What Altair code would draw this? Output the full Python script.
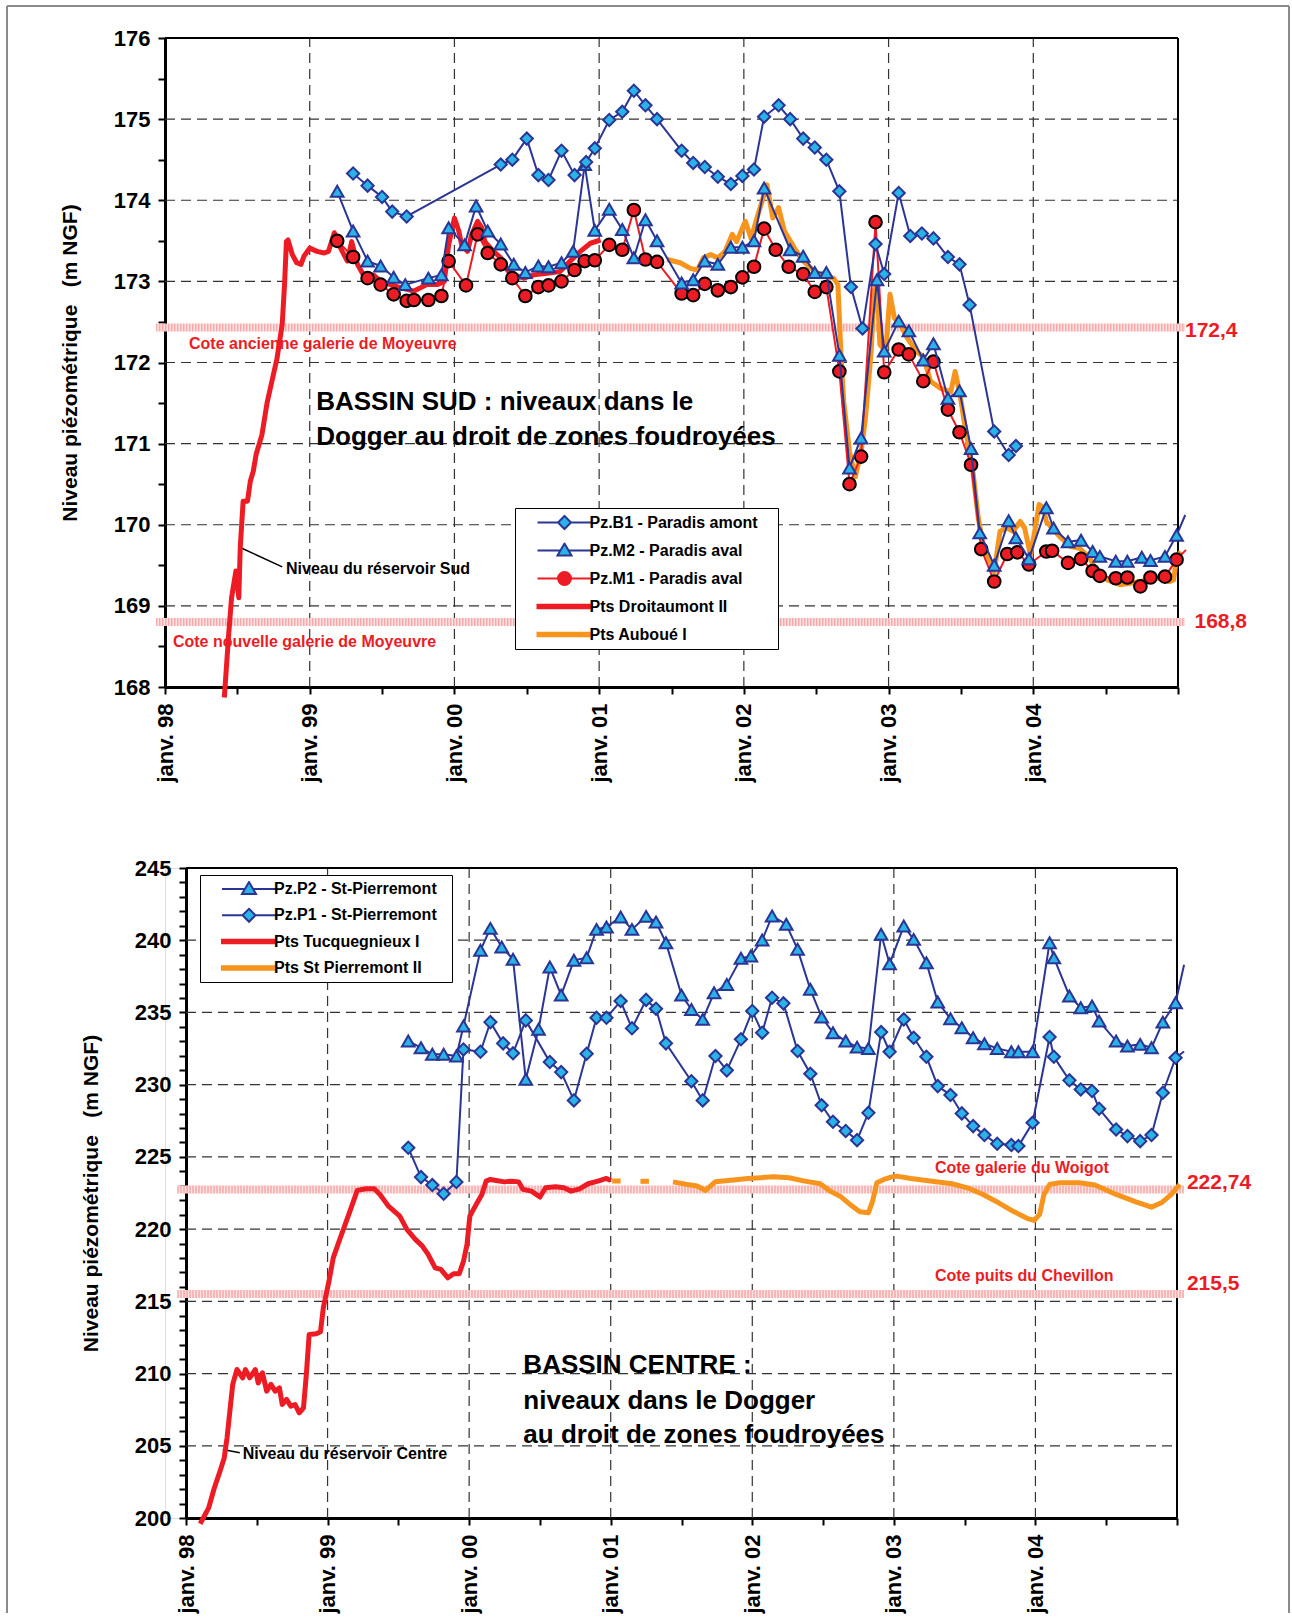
import altair as alt
import pandas as pd

FONT = "Liberation Sans"
NAVY = "#2b3595"
CYAN = "#2ab3e6"
RED = "#ed1c24"
ORANGE = "#f7941d"
GRID = "#333333"

# ================= BASSIN SUD (top) =================
sud_b1_t = [1999.30, 1999.40, 1999.50, 1999.57, 1999.67, 2000.32, 2000.40, 2000.50, 2000.58, 2000.65,
            2000.74, 2000.83, 2000.91, 2000.97, 2001.07, 2001.16, 2001.24, 2001.32, 2001.40, 2001.57,
            2001.65, 2001.73, 2001.82, 2001.91, 2001.99, 2002.07, 2002.14, 2002.24, 2002.32, 2002.41,
            2002.49, 2002.57, 2002.66, 2002.74, 2002.82, 2002.91, 2002.97, 2003.07, 2003.15, 2003.23,
            2003.31, 2003.41, 2003.49, 2003.56, 2003.73, 2003.83, 2003.88]
sud_b1_v = [174.33, 174.18, 174.04, 173.86, 173.80, 174.44, 174.50, 174.76, 174.31, 174.25,
            174.61, 174.31, 174.47, 174.64, 174.99, 175.09, 175.35, 175.17, 175.00, 174.61,
            174.46, 174.41, 174.29, 174.20, 174.30, 174.38, 175.03, 175.17, 175.00, 174.76,
            174.65, 174.50, 174.11, 172.93, 172.42, 173.46, 173.09, 174.09, 173.56, 173.59,
            173.53, 173.30, 173.21, 172.71, 171.15, 170.86, 170.97]

sud_m2_t = [1999.19, 1999.30, 1999.40, 1999.49, 1999.58, 1999.66, 1999.82, 1999.91, 1999.96, 2000.07,
            2000.15, 2000.23, 2000.32, 2000.41, 2000.49, 2000.58, 2000.65, 2000.74, 2000.82, 2000.90,
            2000.97, 2001.07, 2001.16, 2001.24, 2001.32, 2001.40, 2001.57, 2001.65, 2001.73, 2001.82,
            2001.91, 2001.99, 2002.07, 2002.14, 2002.32, 2002.41, 2002.49, 2002.57, 2002.66, 2002.73,
            2002.81, 2002.92, 2002.97, 2003.07, 2003.14, 2003.24, 2003.31, 2003.41, 2003.49, 2003.57,
            2003.63, 2003.73, 2003.83, 2003.88, 2003.97, 2004.09, 2004.14, 2004.24, 2004.33, 2004.41,
            2004.46, 2004.57, 2004.65, 2004.75, 2004.81, 2004.91, 2004.99, 2005.05]
sud_m2_v = [174.11, 173.62, 173.25, 173.19, 173.05, 172.96, 173.04, 173.08, 173.66, 173.45,
            173.93, 173.62, 173.46, 173.21, 173.11, 173.19, 173.18, 173.23, 173.37, 174.44,
            173.63, 173.89, 173.64, 173.29, 173.76, 173.50, 172.98, 173.02, 173.25, 173.21,
            173.42, 173.42, 173.50, 174.15, 173.39, 173.31, 173.11, 173.11, 172.09, 170.70,
            171.07, 173.02, 172.14, 172.51, 172.39, 172.03, 172.23, 171.56, 171.65, 170.94,
            169.90, 169.50, 170.05, 169.84, 169.58, 170.21, 169.96, 169.79, 169.81, 169.67,
            169.61, 169.55, 169.55, 169.60, 169.56, 169.61, 169.87, 170.12]

sud_m1_t = [1999.19, 1999.30, 1999.40, 1999.49, 1999.58, 1999.67, 1999.72, 1999.82, 1999.91, 1999.96,
            2000.08, 2000.16, 2000.23, 2000.32, 2000.40, 2000.49, 2000.58, 2000.65, 2000.74, 2000.83,
            2000.90, 2000.97, 2001.07, 2001.16, 2001.24, 2001.32, 2001.40, 2001.57, 2001.65, 2001.73,
            2001.82, 2001.91, 2001.99, 2002.07, 2002.14, 2002.22, 2002.31, 2002.41, 2002.49, 2002.57,
            2002.66, 2002.73, 2002.81, 2002.91, 2002.97, 2003.07, 2003.14, 2003.24, 2003.31, 2003.41,
            2003.49, 2003.57, 2003.64, 2003.73, 2003.82, 2003.89, 2003.97, 2004.09, 2004.13, 2004.24,
            2004.33, 2004.41, 2004.46, 2004.57, 2004.65, 2004.74, 2004.81, 2004.91, 2004.99, 2005.055]
sud_m1_v = [173.50, 173.30, 173.04, 172.96, 172.84, 172.76, 172.77, 172.77, 172.82, 173.25,
            172.95, 173.58, 173.35, 173.21, 173.04, 172.82, 172.93, 172.95, 173.00, 173.14,
            173.25, 173.26, 173.45, 173.39, 173.88, 173.27, 173.24, 172.85, 172.83, 172.97,
            172.89, 172.93, 173.05, 173.18, 173.65, 173.39, 173.18, 173.09, 172.87, 172.93,
            171.89, 170.50, 170.84, 173.73, 171.88, 172.16, 172.10, 171.77, 172.01, 171.42,
            171.14, 170.74, 169.70, 169.30, 169.64, 169.66, 169.51, 169.67, 169.68, 169.53,
            169.58, 169.43, 169.37, 169.34, 169.35, 169.24, 169.35, 169.36, 169.57, 169.69]

sud_droit_t = [1998.41, 1998.44, 1998.46, 1998.49, 1998.51, 1998.52, 1998.54, 1998.57, 1998.59, 1998.61,
               1998.63, 1998.67, 1998.705, 1998.774, 1998.81, 1998.826, 1998.839, 1998.85, 1998.88, 1998.91,
               1998.94, 1998.96, 1999.00, 1999.05, 1999.10, 1999.13, 1999.17, 1999.19, 1999.26, 1999.29,
               1999.33, 1999.37, 1999.44, 1999.49, 1999.56, 1999.63, 1999.72, 1999.81, 1999.88, 1999.93,
               1999.96, 2000.00, 2000.03, 2000.05, 2000.09, 2000.12, 2000.16, 2000.19, 2000.21, 2000.27,
               2000.32, 2000.36, 2000.41, 2000.48, 2000.55, 2000.64, 2000.73, 2000.80, 2000.87, 2000.94,
               2001.01]
sud_droit_v = [167.87, 168.65, 169.10, 169.43, 169.10, 169.72, 170.29, 170.29, 170.54, 170.66,
               170.87, 171.11, 171.50, 172.05, 172.47, 172.96, 173.49, 173.51, 173.33, 173.23,
               173.21, 173.31, 173.41, 173.37, 173.35, 173.37, 173.60, 173.49, 173.25, 173.49,
               173.21, 173.08, 173.08, 173.00, 172.96, 172.92, 172.88, 172.96, 172.96, 173.00,
               173.45, 173.78, 173.62, 173.45, 173.37, 173.58, 173.74, 173.66, 173.49, 173.37,
               173.29, 173.16, 173.08, 173.04, 173.08, 173.10, 173.12, 173.25, 173.37, 173.47,
               173.51]

sud_aub_t = [2001.47, 2001.56, 2001.63, 2001.68, 2001.72, 2001.77, 2001.82, 2001.87, 2001.92, 2001.95,
             2002.01, 2002.05, 2002.09, 2002.14, 2002.16, 2002.20, 2002.24, 2002.28, 2002.35, 2002.41,
             2002.48, 2002.55, 2002.62, 2002.65, 2002.67, 2002.69, 2002.73, 2002.77, 2002.81, 2002.84,
             2002.88, 2002.90, 2002.92, 2002.94, 2002.98, 2003.01, 2003.04, 2003.08, 2003.13, 2003.19,
             2003.24, 2003.29, 2003.36, 2003.43, 2003.46, 2003.49, 2003.53, 2003.58, 2003.62, 2003.65,
             2003.69, 2003.73, 2003.77, 2003.82, 2003.86, 2003.91, 2003.94, 2003.98, 2004.01, 2004.04,
             2004.07, 2004.09, 2004.13, 2004.19, 2004.26, 2004.32, 2004.39, 2004.44, 2004.51, 2004.60,
             2004.67, 2004.74, 2004.81, 2004.88, 2004.94, 2004.97, 2004.99, 2005.02]
sud_aub_v = [173.27, 173.23, 173.16, 173.14, 173.29, 173.33, 173.29, 173.37, 173.58, 173.49,
             173.74, 173.53, 173.78, 174.07, 174.19, 173.78, 173.91, 173.62, 173.41, 173.25,
             173.14, 173.06, 173.04, 172.96, 172.14, 171.52, 170.90, 170.59, 170.90, 171.31,
             172.14, 172.88, 172.96, 172.22, 172.14, 172.84, 172.55, 172.47, 172.30, 172.14,
             172.07, 171.77, 171.68, 171.64, 171.89, 171.64, 171.19, 170.70, 170.08, 169.79,
             169.59, 169.42, 169.92, 169.96, 169.92, 170.04, 169.96, 169.63, 169.92, 170.25,
             170.21, 170.04, 169.96, 169.84, 169.73, 169.71, 169.59, 169.42, 169.32, 169.26,
             169.28, 169.30, 169.34, 169.34, 169.30, 169.32, 169.59, 169.67]

sud_legend = ["Pz.B1 - Paradis amont", "Pz.M2 - Paradis aval", "Pz.M1 - Paradis aval",
              "Pts Droitaumont II", "Pts Auboué I"]
sud_levels = [172.43, 168.8]
sud_level_labels = ["172,4", "168,8"]

# ================= BASSIN CENTRE (bottom) =================
cen_p2_t = [1999.57, 1999.66, 1999.74, 1999.82, 1999.91, 1999.96, 2000.08, 2000.15, 2000.23, 2000.31,
            2000.40, 2000.49, 2000.57, 2000.65, 2000.74, 2000.83, 2000.90, 2000.97, 2001.07, 2001.15,
            2001.25, 2001.32, 2001.39, 2001.50, 2001.57, 2001.65, 2001.73, 2001.82, 2001.92, 2001.99,
            2002.07, 2002.14, 2002.24, 2002.32, 2002.41, 2002.49, 2002.57, 2002.66, 2002.74, 2002.82,
            2002.91, 2002.97, 2003.07, 2003.14, 2003.23, 2003.31, 2003.40, 2003.48, 2003.56, 2003.64,
            2003.73, 2003.83, 2003.88, 2003.98, 2004.10, 2004.13, 2004.24, 2004.32, 2004.40, 2004.45,
            2004.57, 2004.65, 2004.74, 2004.82, 2004.90, 2004.99, 2005.05]
cen_p2_v = [233.02, 232.56, 232.10, 232.10, 231.98, 234.06, 239.30, 240.82, 239.53, 238.68,
            230.37, 233.83, 238.14, 236.20, 238.61, 238.79, 240.75, 240.91, 241.61, 240.75,
            241.65, 241.26, 239.83, 236.20, 235.21, 234.52, 236.36, 236.94, 238.75, 238.91,
            240.01, 241.68, 241.10, 239.37, 236.60, 234.68, 233.60, 233.02, 232.60, 232.51,
            240.41, 238.37, 240.98, 240.06, 238.44, 235.72, 234.56, 233.94, 233.25, 232.83,
            232.51, 232.28, 232.28, 232.28, 239.83, 238.79, 236.14, 235.33, 235.44, 234.40,
            233.02, 232.67, 232.79, 232.56, 234.33, 235.67, 238.30]

cen_p1_t = [1999.57, 1999.66, 1999.74, 1999.82, 1999.91, 1999.96, 2000.08, 2000.15, 2000.24, 2000.31,
            2000.40, 2000.57, 2000.65, 2000.74, 2000.83, 2000.90, 2000.97, 2001.07, 2001.15, 2001.25,
            2001.32, 2001.39, 2001.57, 2001.65, 2001.74, 2001.82, 2001.92, 2002.00, 2002.07, 2002.14,
            2002.22, 2002.32, 2002.41, 2002.49, 2002.57, 2002.66, 2002.74, 2002.82, 2002.91, 2002.97,
            2003.07, 2003.14, 2003.23, 2003.31, 2003.40, 2003.48, 2003.56, 2003.64, 2003.73, 2003.83,
            2003.88, 2003.98, 2004.10, 2004.13, 2004.24, 2004.32, 2004.40, 2004.45, 2004.57, 2004.65,
            2004.74, 2004.82, 2004.90, 2004.99, 2005.05]
cen_p1_v = [225.63, 223.60, 223.05, 222.45, 223.26, 232.44, 232.28, 234.33, 232.86, 232.17,
            234.45, 231.57, 230.87, 228.91, 232.14, 234.63, 234.63, 235.79, 233.90, 235.87,
            235.26, 232.86, 230.24, 228.91, 231.98, 230.99, 233.14, 235.10, 233.60, 236.02,
            235.63, 232.33, 230.76, 228.57, 227.43, 226.79, 226.16, 228.05, 233.64, 232.28,
            234.52, 233.25, 231.93, 229.90, 229.28, 228.01, 227.13, 226.51, 225.91, 225.82,
            225.75, 227.36, 233.30, 231.93, 230.30, 229.67, 229.56, 228.33, 226.90, 226.44,
            226.09, 226.51, 229.44, 231.86, 232.30]

cen_tucq_t = [1998.10, 1998.16, 1998.20, 1998.24, 1998.27, 1998.29, 1998.31, 1998.33, 1998.36, 1998.40,
              1998.42, 1998.45, 1998.49, 1998.51, 1998.54, 1998.57, 1998.60, 1998.63, 1998.66, 1998.68,
              1998.71, 1998.74, 1998.77, 1998.80, 1998.83, 1998.85, 1998.87, 1998.92, 1998.95, 1998.97,
              1999.01, 1999.04, 1999.09, 1999.15, 1999.21, 1999.27, 1999.33, 1999.37, 1999.43, 1999.51,
              1999.56, 1999.62, 1999.67, 1999.71, 1999.76, 1999.80, 1999.85, 1999.89, 1999.93, 1999.96,
              1999.985, 2000.005, 2000.05, 2000.09, 2000.12, 2000.15, 2000.19, 2000.25, 2000.30, 2000.35,
              2000.38, 2000.44, 2000.50, 2000.54, 2000.61, 2000.67, 2000.72, 2000.78, 2000.84, 2000.91,
              2000.97, 2001.00]
cen_tucq_v = [199.60, 200.70, 202.08, 203.24, 204.16, 205.55, 207.40, 209.25, 210.28, 209.70,
              210.28, 209.70, 210.28, 209.35, 210.05, 208.78, 209.25, 208.78, 209.01, 207.86,
              208.21, 207.74, 207.86, 207.28, 207.63, 209.94, 212.71, 212.75, 212.89, 214.55,
              216.40, 218.01, 219.40, 221.02, 222.68, 222.79, 222.79, 222.40, 221.59, 220.90,
              219.98, 219.29, 218.82, 218.25, 217.32, 217.21, 216.63, 216.91, 216.91, 217.78,
              218.94, 220.90, 221.71, 222.40, 223.32, 223.44, 223.37, 223.27, 223.32, 223.27,
              222.75, 222.63, 222.22, 222.86, 222.93, 222.86, 222.63, 222.79, 223.14, 223.32,
              223.51, 223.37]

cen_stp_t = [2001.01, 2001.07,
             2001.21, 2001.27,
             2001.44, 2001.54, 2001.61, 2001.67, 2001.74, 2001.83, 2001.90, 2001.97,
             2002.06, 2002.15, 2002.26, 2002.37, 2002.48, 2002.55, 2002.62, 2002.69, 2002.76, 2002.82,
             2002.85, 2002.88, 2002.93, 2002.98, 2003.02, 2003.12, 2003.27, 2003.41, 2003.52, 2003.63,
             2003.74, 2003.84, 2003.94, 2003.99, 2004.03, 2004.06, 2004.10, 2004.17, 2004.31, 2004.42,
             2004.57, 2004.71, 2004.82, 2004.89, 2004.96, 2005.02]
cen_stp_v = [223.33, 223.33,
             223.31, 223.31,
             223.27, 223.09, 222.98, 222.68, 223.28, 223.37, 223.44, 223.51,
             223.56, 223.62, 223.56, 223.32, 223.14, 222.63, 222.28, 221.71, 221.20, 221.13,
             221.94, 223.21, 223.44, 223.60, 223.67, 223.51, 223.32, 223.14, 222.86, 222.40,
             221.82, 221.25, 220.75, 220.60, 221.02, 222.40, 223.09, 223.21, 223.21, 223.05,
             222.40, 221.89, 221.52, 221.82, 222.40, 223.09]
cen_stp_seg = [0, 0, 1, 1] + [2] * 44

cen_legend = ["Pz.P2 - St-Pierremont", "Pz.P1 - St-Pierremont", "Pts Tucquegnieux I", "Pts St Pierremont II"]
cen_levels = [222.74, 215.5]
cen_level_labels = ["222,74", "215,5"]

YEARS = [1999, 2000, 2001, 2002, 2003, 2004]

# ---------------- helpers ----------------
def series_df(t, v, seg=None):
    d = pd.DataFrame({"t": t, "v": v, "i": list(range(len(t)))})
    d["seg"] = seg if seg is not None else 0
    return d


def make_axes(ymin, ymax, ystep_minor, ylabel_every):
    common = dict(labelFont=FONT, labelFontSize=22, labelFontWeight="bold", labelColor="black",
                  tickSize=7, tickWidth=2, tickColor="black", domainColor="black", domainWidth=3,
                  grid=False, labelFlush=False, labelOverlap=False)
    n = int(round((ymax - ymin) / ystep_minor))
    yvals = [ymin + ystep_minor * k for k in range(n + 1)]
    yaxis = alt.Axis(values=yvals,
                     labelExpr=f"datum.value % {ylabel_every} == 0 ? format(datum.value, 'd') : ''",
                     labelPadding=8,
                     title="Niveau piézométrique\u00a0\u00a0\u00a0(m NGF)",
                     titleFont=FONT, titleFontSize=21, titleFontWeight="bold", titleColor="black",
                     titlePadding=33, **common)
    xaxis = alt.Axis(values=[1998 + 0.5 * k for k in range(15)],
                     labelExpr="datum.value % 1 == 0 && datum.value < 2005 ? 'janv. ' + slice(format(datum.value, 'd'), 2) : ''",
                     labelAngle=270, labelAlign="right", labelBaseline="middle", labelPadding=9,
                     title=None, **common)
    return xaxis, yaxis


def legend_layer(names, paths, strokes, fills, lx, ly, pad, row_pad, n_trail):
    # trailing non-breaking spaces (closed by a zero-width char so they are kept) widen the legend box
    trail = "\u00a0" * n_trail + "\u200b"
    leg = alt.Legend(orient="none", legendX=lx, legendY=ly, title=None, padding=pad,
                     strokeColor="black", fillColor="white",
                     labelFont=FONT, labelFontSize=16, labelFontWeight="bold", labelColor="black",
                     labelOffset=52, labelLimit=400,
                     labelExpr=f"datum.label + '{trail}'",
                     symbolSize=100, symbolStrokeWidth=2, symbolOpacity=1,
                     clipHeight=16, rowPadding=row_pad)
    d = pd.DataFrame({"serie": names})
    return alt.Chart(d).mark_point(opacity=1, filled=False).encode(
        shape=alt.Shape("serie:N", scale=alt.Scale(domain=names, range=paths), legend=leg),
        fill=alt.Fill("serie:N", scale=alt.Scale(domain=names, range=fills), legend=leg),
        stroke=alt.Stroke("serie:N", scale=alt.Scale(domain=names, range=strokes), legend=leg),
    ).transform_filter("false")


P_DIAMOND = "M1.6,0H5.7M8.3,0H12.4M7,-1.3L8.3,0L7,1.3L5.7,0Z"
P_TRIANGLE = "M1.6,0H6.1M7.9,0H12.4M7,-1.4L8.4,1L5.6,1Z"
P_CIRCLE = "M1.6,0H5.7M8.3,0H12.4M5.7,0A1.3,1.3,0,1,1,8.3,0A1.3,1.3,0,1,1,5.7,0Z"
P_THICK = "M1.6,-0.35H12.4V0.35H1.6Z"


def panel(ymin, ymax, ystep_minor, ylabel_every, hgrid, levels, level_labels,
          level_label_t, level_label_v, notes, leader, lines, marker_series, legend):
    xs = alt.Scale(domain=[1998, 2005], nice=False, zero=False)
    ys = alt.Scale(domain=[ymin, ymax], nice=False, zero=False)
    xaxis, yaxis = make_axes(ymin, ymax, ystep_minor, ylabel_every)
    X = alt.X("t:Q", scale=xs, axis=xaxis)
    Y = alt.Y("v:Q", scale=ys, axis=yaxis)

    layers = []
    vg = pd.DataFrame({"t": YEARS, "v": [ymin] * len(YEARS), "v2": [ymax] * len(YEARS)})
    layers.append(alt.Chart(vg).mark_rule(color=GRID, strokeWidth=1.2, strokeDash=[10, 6]).encode(
        x=X, y=Y, y2="v2:Q"))
    hg = pd.DataFrame({"v": hgrid, "t": [1998] * len(hgrid), "t2": [2005] * len(hgrid)})
    layers.append(alt.Chart(hg).mark_rule(color=GRID, strokeWidth=1.2, strokeDash=[10, 6]).encode(
        x=X, x2="t2:Q", y=Y))
    fr_top = pd.DataFrame({"t": [1998], "t2": [2005], "v": [ymax]})
    layers.append(alt.Chart(fr_top).mark_rule(color="black", strokeWidth=2).encode(x=X, x2="t2:Q", y=Y))
    fr_right = pd.DataFrame({"t": [2005], "v": [ymin], "v2": [ymax]})
    layers.append(alt.Chart(fr_right).mark_rule(color="black", strokeWidth=2).encode(x=X, y=Y, y2="v2:Q"))
    bd = pd.DataFrame({"v": levels, "t": [1997.94] * len(levels), "t2": [2005.05] * len(levels)})
    layers.append(alt.Chart(bd).mark_rule(color="#fde2e2", strokeWidth=8).encode(x=X, x2="t2:Q", y=Y))
    layers.append(alt.Chart(bd).mark_rule(color="#ec4a4a", strokeWidth=8, strokeDash=[1, 2], opacity=0.55)
                  .encode(x=X, x2="t2:Q", y=Y))
    ll = pd.DataFrame({"label": level_labels, "t": level_label_t, "v": level_label_v})
    layers.append(alt.Chart(ll).mark_text(align="left", baseline="middle", font=FONT, fontSize=21,
                                          fontWeight="bold", color=RED).encode(x=X, y=Y, text="label:N"))
    for (txt_list, tt, vv, size, color) in notes:
        nd = pd.DataFrame({"label": txt_list, "t": [tt] * len(txt_list), "v": vv})
        layers.append(alt.Chart(nd).mark_text(align="left", baseline="middle", font=FONT, fontSize=size,
                                              fontWeight="bold", color=color).encode(x=X, y=Y, text="label:N"))
    ld = pd.DataFrame({"t": [leader[0]], "v": [leader[1]], "t2": [leader[2]], "v2": [leader[3]]})
    layers.append(alt.Chart(ld).mark_rule(color="black", strokeWidth=1.5).encode(x=X, y=Y, x2="t2:Q", y2="v2:Q"))
    for (d, color) in lines:
        layers.append(alt.Chart(d).mark_line(color=color, strokeWidth=5, strokeJoin="round").encode(
            x=X, y=Y, order="i:Q", detail="seg:N"))
    for (d, lcolor, shape, size, fill, stroke) in marker_series:
        layers.append(alt.Chart(d).mark_line(color=lcolor, strokeWidth=2).encode(x=X, y=Y, order="i:Q"))
        layers.append(alt.Chart(d).mark_point(shape=shape, size=size, filled=True, fill=fill, stroke=stroke,
                                              strokeWidth=2, opacity=1)
                      .encode(x=X, y=Y).transform_filter("datum.t <= 2005"))
    layers.append(legend)
    return layers


# ---------------- top panel ----------------
top_layers = panel(
    168, 176, 0.5, 1, [169, 170, 171, 172, 173, 174, 175], sud_levels, sud_level_labels,
    [2005.048, 2005.114], [172.39, 168.8],
    notes=[
        (["Cote ancienne galerie de Moyeuvre"], 1998.166, [172.23], 16, RED),
        (["Cote nouvelle galerie de Moyeuvre"], 1998.055, [168.56], 16, RED),
        (["BASSIN SUD : niveaux dans le", "Dogger au droit de zones foudroyées"], 1999.045, [171.51, 171.08], 26, "black"),
        (["Niveau du réservoir Sud"], 1998.836, [169.456], 16, "black"),
    ],
    leader=(1998.52, 169.72, 1998.81, 169.48),
    lines=[(series_df(sud_droit_t, sud_droit_v), RED), (series_df(sud_aub_t, sud_aub_v), ORANGE)],
    marker_series=[
        (series_df(sud_m1_t, sud_m1_v), RED, "circle", 160, RED, "black"),
        (series_df(sud_m2_t, sud_m2_v), NAVY, "triangle-up", 160, CYAN, NAVY),
        (series_df(sud_b1_t, sud_b1_v), NAVY, "diamond", 150, CYAN, NAVY),
    ],
    legend=legend_layer(sud_legend, [P_DIAMOND, P_TRIANGLE, P_CIRCLE, P_THICK, P_THICK],
                        [NAVY, NAVY, RED, RED, ORANGE], [CYAN, CYAN, RED, RED, ORANGE],
                        350, 470, 6.5, 12, 3),
)
# outer figure frame (decoration)
fdf = pd.DataFrame({"k": [0]})
top_layers.append(alt.Chart(fdf).mark_rule(color="#8a8a8a", strokeWidth=2).encode(
    x=alt.value(-158), y=alt.value(-32), y2=alt.value(1575)))
top_layers.append(alt.Chart(fdf).mark_rule(color="#8a8a8a", strokeWidth=2).encode(
    x=alt.value(1124), y=alt.value(-32), y2=alt.value(1575)))
top_layers.append(alt.Chart(fdf).mark_rule(color="#8a8a8a", strokeWidth=2).encode(
    x=alt.value(-158), x2=alt.value(1124), y=alt.value(-32)))

top = alt.layer(*top_layers).properties(width=1013, height=649)

# ---------------- bottom panel ----------------
bot_layers = panel(
    200, 245, 1, 5, [205, 210, 215, 220, 225, 230, 235, 240], cen_levels, cen_level_labels,
    [2005.07, 2005.07], [223.2, 216.21],
    notes=[
        (["Cote galerie du Woigot"], 2003.29, [224.25], 16, RED),
        (["Cote puits du Chevillon"], 2003.29, [216.75], 16, RED),
        (["BASSIN CENTRE :", "niveaux dans le Dogger", "au droit de zones foudroyées"], 2000.383,
         [210.58, 208.13, 205.78], 26, "black"),
        (["Niveau du réservoir Centre"], 1998.40, [204.40], 16, "black"),
    ],
    leader=(1998.26, 204.74, 1998.38, 204.51),
    lines=[(series_df(cen_tucq_t, cen_tucq_v), RED), (series_df(cen_stp_t, cen_stp_v, cen_stp_seg), ORANGE)],
    marker_series=[
        (series_df(cen_p1_t, cen_p1_v), NAVY, "diamond", 150, CYAN, NAVY),
        (series_df(cen_p2_t, cen_p2_v), NAVY, "triangle-up", 160, CYAN, NAVY),
    ],
    legend=legend_layer(cen_legend, [P_TRIANGLE, P_DIAMOND, P_THICK, P_THICK],
                        [NAVY, NAVY, RED, ORANGE], [CYAN, CYAN, RED, ORANGE],
                        35, 7, 6, 10.3, 2),
)
bottom = alt.layer(*bot_layers).properties(width=991, height=650)

spacer = alt.Chart(pd.DataFrame({"k": [0]})).mark_point(opacity=0).encode(
    x=alt.value(0), y=alt.value(0)).properties(width=21, height=650)

row2 = alt.hconcat(spacer, bottom, spacing=0, bounds="flush")
chart = alt.vconcat(top, row2, spacing=181, bounds="flush").resolve_scale(
    shape="independent", fill="independent", stroke="independent"
).resolve_legend(
    shape="independent", fill="independent", stroke="independent"
).properties(
    padding={"left": 5, "top": 4, "right": 0, "bottom": 0}
).configure_view(stroke=None).configure(font=FONT)

chart.save("out.html", embed_options={"renderer": "svg", "actions": False})
